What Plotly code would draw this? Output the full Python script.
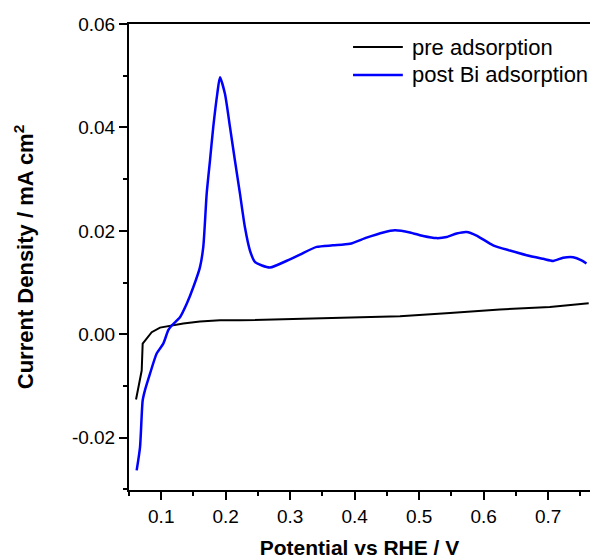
import plotly.graph_objects as go

# pre adsorption (black)
pre_x = [0.0609, 0.0660, 0.0697, 0.0712, 0.0774, 0.0852, 0.0981, 0.1136, 0.1342, 0.1601,
         0.1911, 0.2221, 0.2531, 0.2996, 0.3926, 0.4702, 0.5477, 0.6252, 0.7027, 0.7570, 0.7630]
pre_y = [-0.0126, -0.0095, -0.0070, -0.0018, -0.0008, 0.0004, 0.0013, 0.0017, 0.0021, 0.0025,
         0.0027, 0.0027, 0.0028, 0.0030, 0.0032, 0.0035, 0.0041, 0.0048, 0.0053, 0.0059, 0.0060]

# post Bi adsorption (blue)
post_x = [0.0619, 0.0671, 0.0712, 0.0748, 0.0826, 0.0929, 0.1032, 0.1109, 0.1162, 0.1291,
          0.1395, 0.1497, 0.1601, 0.1652, 0.1705, 0.1756, 0.1807, 0.1869, 0.1911, 0.1988,
          0.2066, 0.2143, 0.2221, 0.2298, 0.2376, 0.2453, 0.2562, 0.2686, 0.2996, 0.3151,
          0.3410, 0.3663, 0.3926, 0.4185, 0.4443, 0.4624, 0.4857, 0.5063, 0.5270, 0.5426,
          0.5581, 0.5736, 0.5891, 0.6148, 0.6407, 0.6666, 0.6923, 0.7078, 0.7233, 0.7389,
          0.7519, 0.7595]
post_y = [-0.0263, -0.0218, -0.0128, -0.0108, -0.0076, -0.0037, -0.0018, 0.0008, 0.0017, 0.0033,
          0.0059, 0.0091, 0.0130, 0.0169, 0.0272, 0.0336, 0.0401, 0.0465, 0.0497, 0.0465,
          0.0401, 0.0336, 0.0272, 0.0207, 0.0162, 0.0140, 0.0133, 0.0129, 0.0145, 0.0154,
          0.0169, 0.0172, 0.0175, 0.0187, 0.0197, 0.0201, 0.0197, 0.0190, 0.0186, 0.0188,
          0.0195, 0.0198, 0.0191, 0.0172, 0.0162, 0.0153, 0.0146, 0.0142, 0.0148, 0.0149,
          0.0143, 0.0137]

x_ticks = [0.1, 0.2, 0.3, 0.4, 0.5, 0.6, 0.7]
x_tick_text = ["0.1", "0.2", "0.3", "0.4", "0.5", "0.6", "0.7"]
y_ticks = [-0.02, 0.0, 0.02, 0.04, 0.06]
y_tick_text = ["-0.02", "0.00", "0.02", "0.04", "0.06"]

series_names = ["pre adsorption", "post Bi adsorption"]
series_colors = ["black", "#0000ff"]
series_widths = [2, 2.5]

FONT = "Liberation Sans, Arial, sans-serif"

fig = go.Figure()
fig.add_trace(go.Scatter(x=pre_x, y=pre_y, mode="lines", name=series_names[0], showlegend=False,
                         line=dict(color=series_colors[0], width=series_widths[0])))
fig.add_trace(go.Scatter(x=post_x, y=post_y, mode="lines", name=series_names[1], showlegend=False,
                         line=dict(color=series_colors[1], width=series_widths[1],
                                   shape="spline", smoothing=0.6)))

# manual legend (long line samples like the reference)
leg_rows_y = [0.9506, 0.8906]
for name, col, w, yy in zip(series_names, series_colors, series_widths, leg_rows_y):
    fig.add_shape(type="line", xref="paper", yref="paper", x0=0.486, x1=0.594, y0=yy, y1=yy,
                  line=dict(color=col, width=w))
    fig.add_annotation(xref="paper", yref="paper", x=0.6095, y=yy, xanchor="left", yanchor="middle",
                       text=name, showarrow=False, font=dict(size=22, family=FONT, color="black"))

fig.update_layout(
    width=590, height=560,
    margin=dict(l=129, r=0, t=24, b=70, autoexpand=False),
    paper_bgcolor="white", plot_bgcolor="white",
    font=dict(family=FONT, color="black", size=19),
    showlegend=False,
    xaxis=dict(
        range=[0.05, 0.765], showgrid=False, zeroline=False,
        showline=True, linecolor="black", linewidth=2, mirror=True,
        ticks="outside", ticklen=8, tickwidth=2, tickcolor="black",
        tickvals=x_ticks, ticktext=x_tick_text,
        tickfont=dict(size=19, family=FONT),
        minor=dict(dtick=0.05, tick0=0.05, ticks="outside", ticklen=4, tickwidth=2, tickcolor="black"),
        title=dict(text="<b>Potential vs RHE / V</b>", font=dict(size=21, family=FONT), standoff=15),
    ),
    yaxis=dict(
        range=[-0.0301, 0.06], showgrid=False, zeroline=False,
        showline=True, linecolor="black", linewidth=2,
        ticks="outside", ticklen=8, tickwidth=2, tickcolor="black",
        tickvals=y_ticks, ticktext=y_tick_text,
        tickfont=dict(size=19, family=FONT),
        minor=dict(dtick=0.01, tick0=0.0, ticks="outside", ticklen=4, tickwidth=2, tickcolor="black"),
        title=dict(text="<b>Current Density / mA cm<sup>2</sup></b>", font=dict(size=22, family=FONT), standoff=32),
    ),
)

fig.write_html("out.html", config={"displayModeBar": False},
               post_script="document.body.style.margin='0';document.body.style.overflow='hidden';")
